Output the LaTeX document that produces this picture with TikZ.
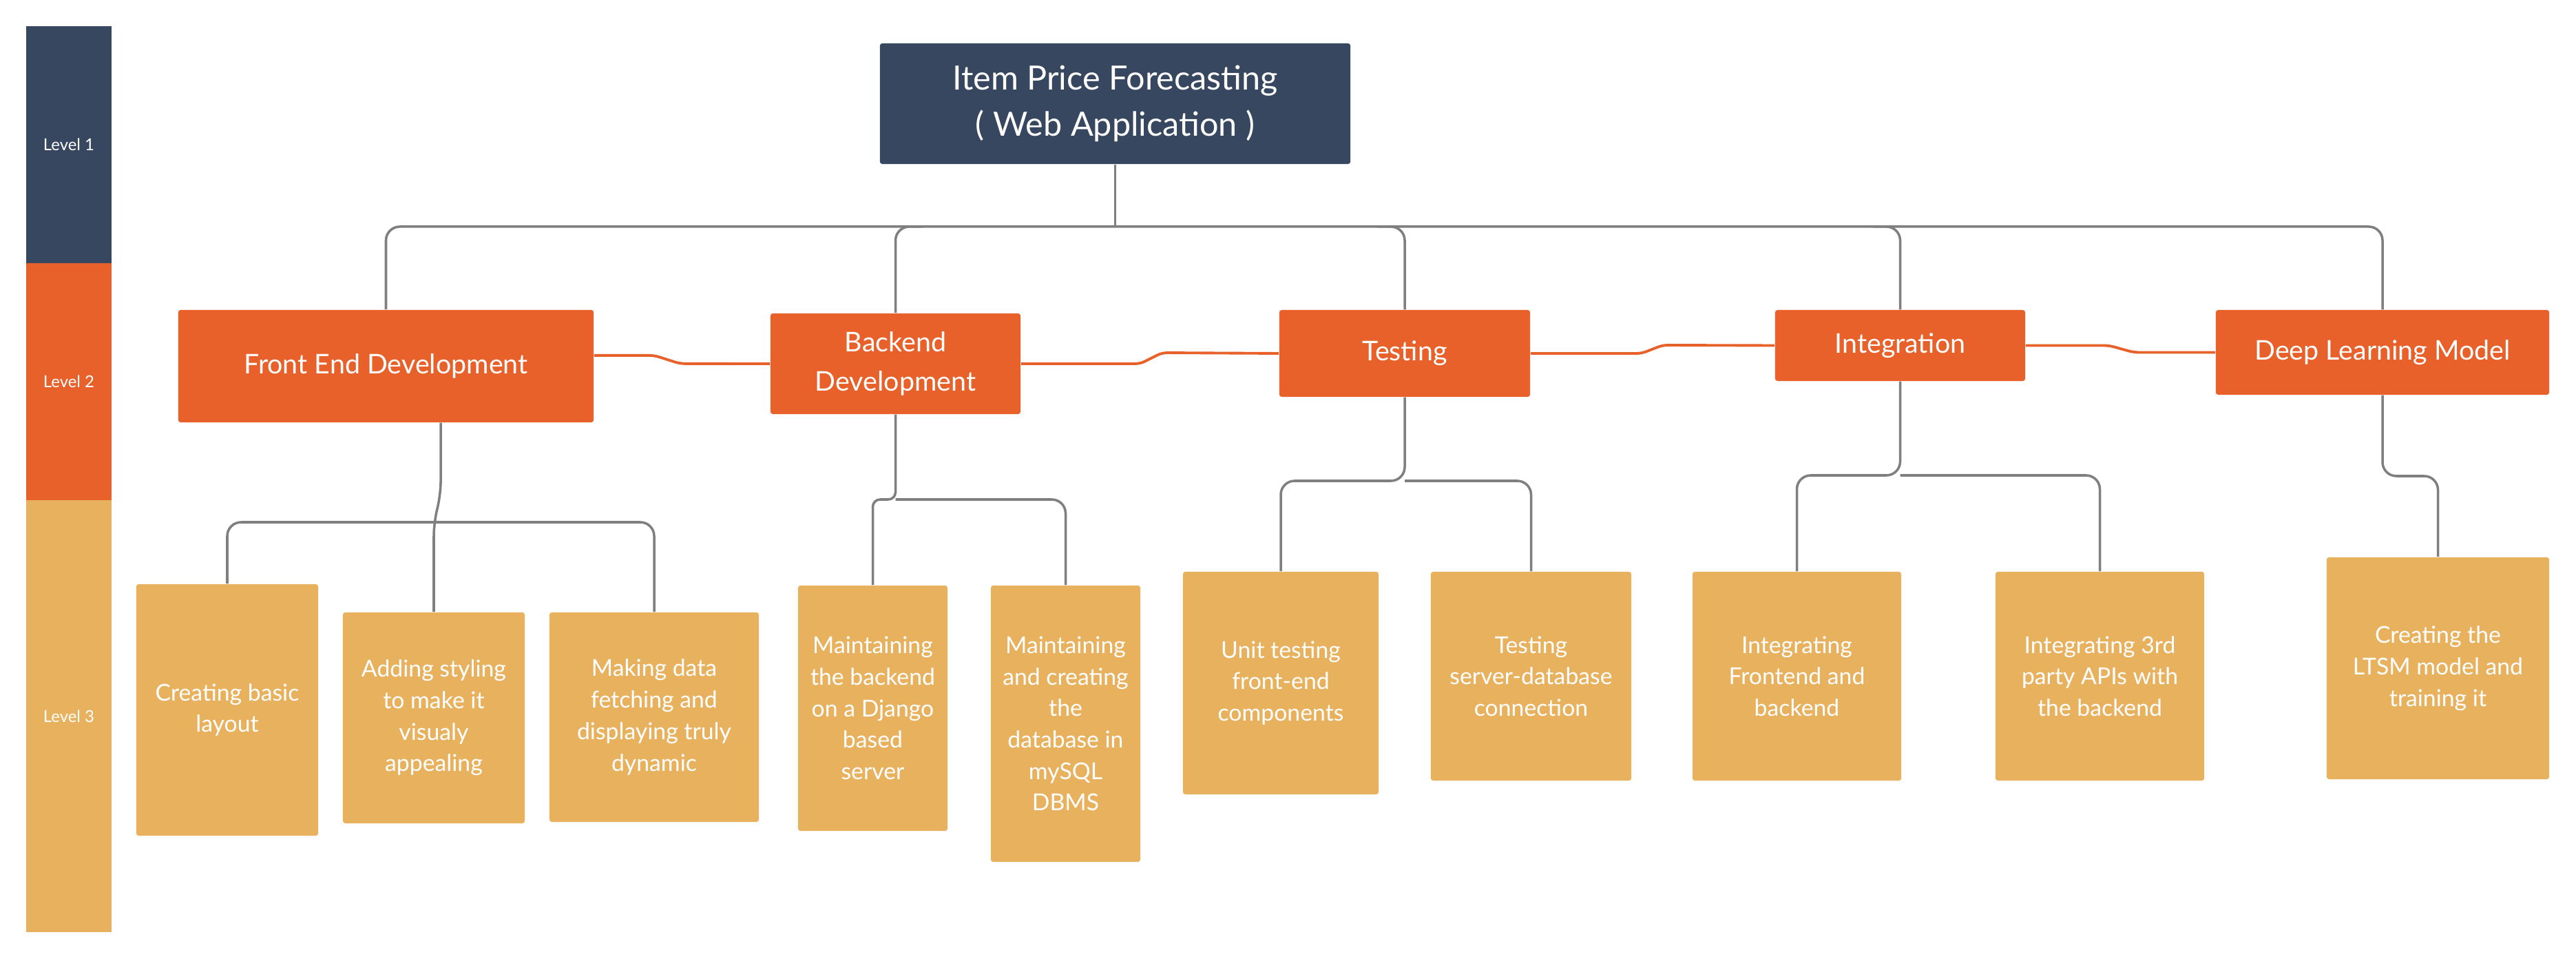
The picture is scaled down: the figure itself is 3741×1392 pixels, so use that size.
\documentclass[tikz,border=0pt]{standalone}
\usepackage{fontspec}
\setmainfont{Lato}
\usetikzlibrary{calc}
\definecolor{navy}{HTML}{36475F}
\definecolor{orng}{HTML}{E8612A}
\definecolor{leafc}{HTML}{E8B15E}
\definecolor{linegray}{HTML}{7F7F7F}
\begin{document}
\begin{tikzpicture}[x=0.01cm,y=-0.01cm,
  box/.style={rounded corners=1pt, inner sep=0pt, align=center, text=white},
  titlebox/.style={box, fill=navy, font=\fontsize{13.8}{19}\selectfont},
  lvltwo/.style={box, fill=orng, font=\fontsize{11.2}{16}\selectfont},
  leaf/.style={box, fill=leafc, font=\fontsize{9.6}{13}\selectfont},
  bar/.style={inner sep=0pt, align=center, text=white, minimum width=1.24cm, font=\fontsize{6.8}{8}\selectfont},
  conn/.style={draw=linegray, line width=1pt, rounded corners=5.7pt},
  oconn/.style={draw=orng, line width=1.1pt, rounded corners=2pt}]
\useasboundingbox (0,0) rectangle (3741,1392);
\fill[white] (0,0) rectangle (3741,1392);

% level bars
\node[bar, fill=navy, minimum height=3.44cm] (lv1) at (100,210) {Level 1};
\node[bar, fill=orng, minimum height=3.44cm] (lv2) at (100,554) {Level 2};
\node[bar, fill=leafc, minimum height=6.27cm] (lv3) at (100,1039.5) {Level 3};

% level 1
\node[titlebox, minimum width=6.83cm, minimum height=1.75cm] (title) at (1619.5,150.5) {Item Price Forecasting\\( Web Application )};

% level 2
\node[lvltwo, minimum width=6.03cm, minimum height=1.63cm] (fe) at (560.5,531.5) {Front End Development};
\node[lvltwo, minimum width=3.63cm, minimum height=1.46cm] (bk) at (1300.5,528) {Backend\\Development};
\node[lvltwo, minimum width=3.64cm, minimum height=1.26cm] (ts) at (2040,513) {Testing};
\node[lvltwo, minimum width=3.63cm, minimum height=1.03cm] (integ) at (2759.5,501.5) {Integration};
\node[lvltwo, minimum width=4.84cm, minimum height=1.23cm] (dlm) at (3460,511.5) {Deep Learning Model};

% level 3
\node[leaf, minimum width=2.64cm, minimum height=3.65cm] (l1) at (330,1030.5) {Creating basic\\layout};
\node[leaf, minimum width=2.64cm, minimum height=3.06cm] (l2) at (630,1042) {Adding styling\\to make it\\visualy\\appealing};
\node[leaf, minimum width=3.04cm, minimum height=3.04cm] (l3) at (950,1041) {Making data\\fetching and\\displaying truly\\dynamic};
\node[leaf, minimum width=2.17cm, minimum height=3.56cm] (l4) at (1267.5,1028) {Maintaining\\the backend\\on a Django\\based\\server};
\node[leaf, minimum width=2.17cm, minimum height=4.01cm] (l5) at (1547.5,1050.5) {Maintaining\\and creating\\the\\database in\\mySQL\\DBMS};
\node[leaf, minimum width=2.84cm, minimum height=3.23cm] (l6) at (1860,991.5) {Unit testing\\front-end\\components};
\node[leaf, minimum width=2.91cm, minimum height=3.03cm] (l7) at (2223.5,981.5) {Testing\\server-database\\connection};
\node[leaf, minimum width=3.03cm, minimum height=3.03cm] (l8) at (2609.5,981.5) {Integrating\\Frontend and\\backend};
\node[leaf, minimum width=3.03cm, minimum height=3.03cm] (l9) at (3049.5,981.5) {Integrating 3rd\\party APIs with\\the backend};
\node[leaf, minimum width=3.23cm, minimum height=3.22cm] (l10) at (3540.5,970) {Creating the\\LTSM model and\\training it};

% gray tree connectors
\coordinate (bus) at (0,329);
\draw[conn] (title.south) -- (title.south |- bus);
\draw[conn] (fe.north) -- (fe.north |- bus) -- (dlm.north |- bus) -- (dlm.north);
\draw[conn] ($(bk.north |- bus)+(40,0)$) -- (bk.north |- bus) -- (bk.north);
\draw[conn] ($(ts.north |- bus)+(-40,0)$) -- (ts.north |- bus) -- (ts.north);
\draw[conn] ($(integ.north |- bus)+(-40,0)$) -- (integ.north |- bus) -- (integ.north);

\coordinate (feb) at (0,758);
\draw[conn] ([xshift=0.795cm]fe.south) -- ++(0,105) -- (l2.north |- feb) -- (l2.north);
\draw[conn] (l1.north) -- (l1.north |- feb) -- (l3.north |- feb) -- (l3.north);

\coordinate (bkb) at (0,725);
\draw[conn, rounded corners=3pt] (bk.south) -- (bk.south |- bkb) -- (l4.north |- bkb) -- (l4.north);
\draw[conn] (bk.south |- bkb) -- (l5.north |- bkb) -- (l5.north);

\coordinate (tsb) at (0,698);
\draw[conn] (ts.south) -- (ts.south |- tsb) -- (l6.north |- tsb) -- (l6.north);
\draw[conn] (ts.south |- tsb) -- (l7.north |- tsb) -- (l7.north);

\coordinate (inb) at (0,690);
\draw[conn] (integ.south) -- (integ.south |- inb) -- (l8.north |- inb) -- (l8.north);
\draw[conn] (integ.south |- inb) -- (l9.north |- inb) -- (l9.north);

\coordinate (dlb) at (0,691);
\draw[conn] (dlm.south) -- (dlm.south |- dlb) -- (l10.north |- dlb) -- (l10.north);

% orange links
\draw[oconn] ($(fe.north east)!0.405!(fe.south east)$) -- ++(87,0) -- ++(38,12) -- (bk.west);
\draw[oconn] (bk.east) -- ++(173,0) -- ++(32,-16) -- (ts.west);
\draw[oconn] (ts.east) -- ++(161,0) -- ++(31,-12) -- (integ.west);
\draw[oconn] (integ.east) -- ++(121,0) -- ++(36,10) -- (dlm.west);
\end{tikzpicture}
\end{document}
